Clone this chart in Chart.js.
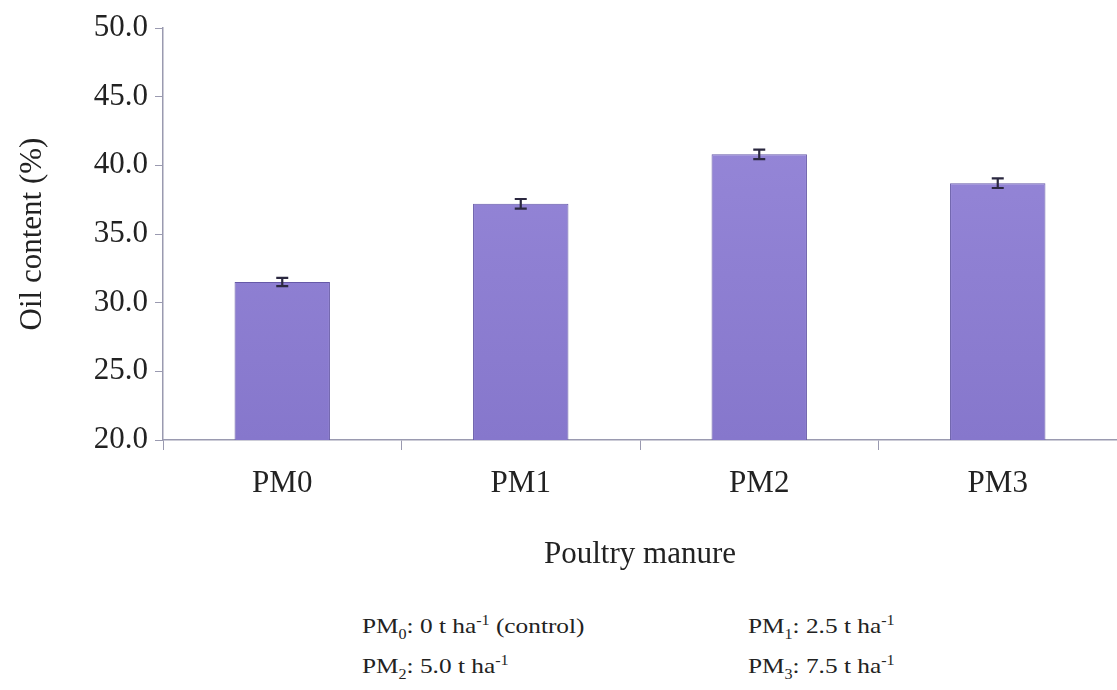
<!DOCTYPE html>
<html>
<head>
<meta charset="utf-8">
<script src="https://cdn.jsdelivr.net/npm/chart.js@4"></script>
<style>
  html, body { margin: 0; padding: 0; background: #fff; }
  #wrap { position: relative; width: 1117px; height: 690px; }
  #chart { position: absolute; left: 0; top: 0; }
  .note { position: absolute; font-family: "Liberation Serif", "DejaVu Serif", serif; font-size: 22px; color: #222;
          white-space: nowrap; transform: scaleX(1.15); transform-origin: left center; }
  .note sub { font-size: 14px; }
  .note sup { font-size: 14px; }
</style>
</head>
<body>
<div id="wrap">
  <canvas id="chart" width="1117" height="590"></canvas>
  <div class="note" style="left:362px; top:613px;">PM<sub>0</sub>: 0 t ha<sup>-1</sup> (control)</div>
  <div class="note" style="left:748px; top:613px;">PM<sub>1</sub>: 2.5 t ha<sup>-1</sup></div>
  <div class="note" style="left:362px; top:653px;">PM<sub>2</sub>: 5.0 t ha<sup>-1</sup></div>
  <div class="note" style="left:748px; top:653px;">PM<sub>3</sub>: 7.5 t ha<sup>-1</sup></div>
</div>
<script>
/* ---- data ---- */
const categories = ["PM0", "PM1", "PM2", "PM3"];
const oilContent = [31.5, 37.2, 40.8, 38.7];
const oilError = [0.3, 0.35, 0.35, 0.35];
const yTicks = [20, 25, 30, 35, 40, 45, 50];

const serif = "'Liberation Serif', 'DejaVu Serif', serif";

/* ---- error bars on top of each bar ---- */
const errorBars = {
  id: "errorBars",
  afterDatasetsDraw(chart) {
    const ctx = chart.ctx;
    const y = chart.scales.y;
    const meta = chart.getDatasetMeta(0);
    ctx.save();
    ctx.strokeStyle = "#2b2840";
    ctx.lineWidth = 2.2;
    meta.data.forEach((bar, i) => {
      const hi = y.getPixelForValue(oilContent[i] + oilError[i]);
      const lo = y.getPixelForValue(oilContent[i] - oilError[i]);
      const cap = 6;
      ctx.beginPath();
      ctx.moveTo(bar.x, hi); ctx.lineTo(bar.x, lo);
      ctx.moveTo(bar.x - cap, hi); ctx.lineTo(bar.x + cap, hi);
      ctx.moveTo(bar.x - cap, lo); ctx.lineTo(bar.x + cap, lo);
      ctx.stroke();
    });
    ctx.restore();
  }
};

// bar fill: slightly lighter near the top, like the original
function barFill(c) {
  const area = c.chart.chartArea;
  if (!area) return "#8c7ed0";
  const g = c.chart.ctx.createLinearGradient(0, area.top, 0, area.bottom);
  g.addColorStop(0, "#9a8bdb");
  g.addColorStop(1, "#8677cc");
  return g;
}

const ctx = document.getElementById("chart").getContext("2d");
new Chart(ctx, {
  type: "bar",
  data: {
    labels: categories,
    datasets: [{
      data: oilContent,
      backgroundColor: barFill,
      borderColor: "#6659a8",
      borderWidth: 1,
      categoryPercentage: 0.8,
      barPercentage: 0.5
    }]
  },
  options: {
    responsive: false,
    animation: false,
    layout: { padding: { top: 28, right: 0, left: 0, bottom: 0 } },
    plugins: { legend: { display: false }, tooltip: { enabled: false } },
    scales: {
      x: {
        afterFit: s => { s.height = 150; },
        grid: { display: true, drawOnChartArea: false, color: "#9a9ab0", tickLength: 10 },
        border: { color: "#9a9ab0", width: 1.5 },
        ticks: { color: "#222", font: { family: serif, size: 31 }, padding: 15 },
        title: { display: true, text: "Poultry manure", color: "#222", font: { family: serif, size: 31 }, padding: { top: 4, bottom: 17 } }
      },
      y: {
        min: 20, max: 50,
        afterFit: s => { s.width = 163; },
        afterBuildTicks: s => { s.ticks = yTicks.map(v => ({ value: v })); },
        grid: { display: true, drawOnChartArea: false, color: "#9a9ab0", tickLength: 8 },
        border: { color: "#9a9ab0", width: 1.5 },
        ticks: { color: "#222", font: { family: serif, size: 31 }, padding: 7, callback: v => v.toFixed(1) },
        title: { display: true, text: "Oil content (%)", color: "#222", font: { family: serif, size: 31 }, padding: { top: 14, bottom: 0 } }
      }
    }
  },
  plugins: [errorBars]
});
</script>
</body>
</html>
